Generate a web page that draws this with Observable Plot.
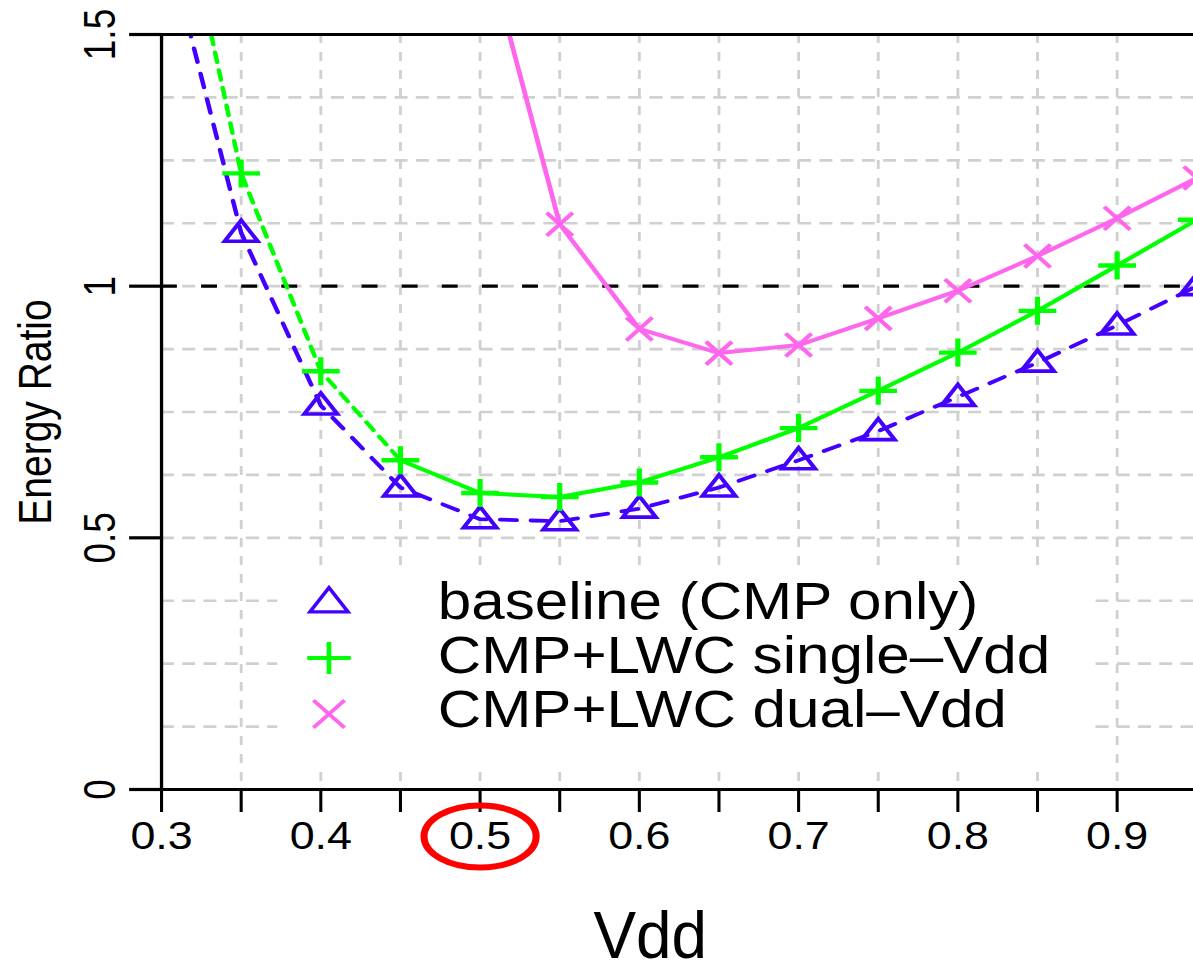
<!DOCTYPE html>
<html><head><meta charset="utf-8">
<script src="https://cdn.jsdelivr.net/npm/d3@7"></script>
<script src="https://cdn.jsdelivr.net/npm/@observablehq/plot@0.6"></script>
<style>html,body{margin:0;padding:0;background:#fff;overflow:hidden}</style>
</head><body><div id="chart"></div>
<script>
// ---- data ----
const vdd        = [0.30, 0.35, 0.40, 0.45, 0.50, 0.55, 0.60, 0.65, 0.70, 0.75, 0.80, 0.85, 0.90, 0.95];
const baseline   = [1.725, 1.106, 0.763, 0.600, 0.537, 0.533, 0.558, 0.600, 0.654, 0.712, 0.780, 0.848, 0.922, 1.000];
const singleVdd  = [1.957, 1.224, 0.831, 0.654, 0.589, 0.581, 0.610, 0.660, 0.718, 0.792, 0.868, 0.951, 1.041, 1.132];
const dualVdd    = [null, null, null, null, 1.718, 1.123, 0.915, 0.867, 0.883, 0.936, 0.991, 1.060, 1.135, 1.215];
const seriesNames  = ["baseline (CMP only)", "CMP+LWC single\u2013Vdd", "CMP+LWC dual\u2013Vdd"];
const seriesColors = ["#4400ff", "#00ff00", "#ff66ee"];
const xMinorTicks = [0.30, 0.35, 0.40, 0.45, 0.50, 0.55, 0.60, 0.65, 0.70, 0.75, 0.80, 0.85, 0.90, 0.95];
const xLabelTicks = [0.3, 0.4, 0.5, 0.6, 0.7, 0.8, 0.9];
const xGridLines  = [0.35, 0.40, 0.45, 0.50, 0.55, 0.60, 0.65, 0.70, 0.75, 0.80, 0.85, 0.90, 0.95];
const yLabelTicks = [0, 0.5, 1, 1.5];
const yGridLines  = [0.125, 0.25, 0.375, 0.5, 0.625, 0.75, 0.875, 1, 1.125, 1.25, 1.375];
const referenceRatio = [1];
const highlightVdd = [0.5];
const singleDashedUpTo = 0.45;
const xTitle = "Vdd";
const yTitle = "Energy Ratio";

// ---- layout ----
const REAL_W = 1193, H = 973, STRETCH = 1.18;
const W = Math.round(REAL_W / STRETCH);
const FONT = "'Liberation Sans', Arial, Helvetica, sans-serif";

// ---- symbols ----
const triangleSym = k => ({draw(c){ const hw=14*k, t=-12.5*k, b=8.5*k; c.moveTo(0,t); c.lineTo(hw,b); c.lineTo(-hw,b); c.closePath(); }});
const plusSym = k => ({draw(c){ const hw=16*k, hh=14*k; c.moveTo(-hw,0); c.lineTo(hw,0); c.moveTo(0,-hh); c.lineTo(0,hh); }});
const timesSym = k => ({draw(c){ const hw=11*k, hh=11.5*k; c.moveTo(-hw,-hh); c.lineTo(hw,hh); c.moveTo(-hw,hh); c.lineTo(hw,-hh); }});
const ellipseSym = {draw(c){ const rx=47.5, ry=31, k=0.5523;
  c.moveTo(rx,0); c.bezierCurveTo(rx,ry*k,rx*k,ry,0,ry); c.bezierCurveTo(-rx*k,ry,-rx,ry*k,-rx,0);
  c.bezierCurveTo(-rx,-ry*k,-rx*k,-ry,0,-ry); c.bezierCurveTo(rx*k,-ry,rx,-ry*k,rx,0); c.closePath(); }};
const chartSyms = [triangleSym(1), plusSym(1), timesSym(1)];
const legendSyms = [triangleSym(1.15), plusSym(1.15), timesSym(1.2)];
const symWidths = [3.6, 4.4, 3.8];

// ---- tables ----
const seriesValues = [baseline, singleVdd, dualVdd];
const rows = seriesValues.map(vals => vdd.map((v, i) => ({vdd: v, ratio: vals[i]})).filter(d => d.ratio != null));

const svg = Plot.plot({
  width: W, height: H,
  marginLeft: 136.4, marginRight: 0, marginTop: 34, marginBottom: 184,
  style: {fontFamily: FONT, background: "white", color: "black"},
  x: {domain: [0.3, 0.948]},
  y: {domain: [0, 1.5]},
  marks: [
    Plot.ruleY(yGridLines, {y: d => d, stroke: "#d0d0d0", strokeWidth: 2.6, strokeDasharray: "11,7"}),
    Plot.ruleX(xGridLines, {x: d => d, stroke: "#d0d0d0", strokeWidth: 2.4, strokeDasharray: "9,9"}),
    Plot.ruleY(referenceRatio, {y: d => d, stroke: "black", strokeWidth: 3.4, strokeDasharray: "13.5,20.5"}),
    // baseline: dashed
    Plot.line(rows[0], {x: "vdd", y: "ratio", stroke: seriesColors[0], strokeWidth: 3.8, strokeDasharray: "14,12", clip: true}),
    // single-Vdd: dashed at low Vdd, solid after
    Plot.line(rows[1].filter(d => d.vdd <= singleDashedUpTo + 1e-9), {x: "vdd", y: "ratio", stroke: seriesColors[1], strokeWidth: 3.8, strokeDasharray: "10,8", clip: true}),
    Plot.line(rows[1].filter(d => d.vdd >= singleDashedUpTo - 1e-9), {x: "vdd", y: "ratio", stroke: seriesColors[1], strokeWidth: 4, clip: true}),
    // dual-Vdd: solid
    Plot.line(rows[2], {x: "vdd", y: "ratio", stroke: seriesColors[2], strokeWidth: 4, clip: true}),
    ...rows.map((r, s) => Plot.dot(r, {x: "vdd", y: "ratio", symbol: chartSyms[s], r: 6, fill: "none", stroke: seriesColors[s], strokeWidth: symWidths[s], clip: true})),
    // frame lines
    Plot.ruleY([0, 1.5], {y: d => d, stroke: "black", strokeWidth: 3.2}),
    Plot.ruleX([0.3], {x: d => d, stroke: "black", strokeWidth: 2.8}),
    // axes
    Plot.axisX({ticks: xMinorTicks, tickSize: 23, tickFormat: () => "", strokeWidth: 2.6, label: null}),
    Plot.axisX({ticks: xLabelTicks, tickSize: 0, tickPadding: 33, fontSize: 38, tickFormat: d => String(d), label: null}),
    Plot.axisY({ticks: yLabelTicks, tickSize: 27, tickFormat: () => "", strokeWidth: 3.2, label: null}),
    Plot.text(yLabelTicks, {y: d => d, text: d => String(d), frameAnchor: "left", dx: -51.7, rotate: -90, fontSize: 37, textAnchor: "middle", lineAnchor: "middle"}),
    Plot.text([yTitle], {text: d => d, frameAnchor: "left", dx: -105.9, rotate: -90, fontSize: 39, textAnchor: "middle", lineAnchor: "middle"}),
    // highlight ring around the 0.5 tick label
    Plot.dot(highlightVdd, {x: d => d, y: () => 0, dy: 47, symbol: ellipseSym, r: 6, fill: "none", stroke: "#ff0000", strokeWidth: 6})
  ]
});

const root = d3.select(svg);
// x title (condensed)
root.append("text").attr("text-anchor", "middle").attr("font-family", FONT).attr("font-size", 66)
  .attr("fill", "black").attr("transform", "translate(551,958) scale(0.82,1)").text(xTitle);

// legend (inside plot area, white box)
const g = root.append("g").attr("font-family", FONT).attr("text-anchor", "start");
g.append("rect").attr("x", 235).attr("y", 565).attr("width", 689).attr("height", 205).attr("fill", "white");
seriesNames.forEach((name, i) => {
  const cy = 602 + 56 * i;
  g.append("path").attr("d", d3.symbol(legendSyms[i], 64)())
    .attr("transform", `translate(278.8,${cy})`)
    .attr("fill", "none").attr("stroke", seriesColors[i]).attr("stroke-width", symWidths[i] * 0.9);
  g.append("text").attr("x", 371).attr("y", 619 + 54 * i).attr("font-size", 51).attr("fill", "black").text(name);
});

// stretch horizontally (the reference is rendered with a horizontal stretch)
svg.setAttribute("viewBox", `0 0 ${W} ${H}`);
svg.setAttribute("width", REAL_W);
svg.setAttribute("height", H);
svg.setAttribute("preserveAspectRatio", "none");
svg.style.width = REAL_W + "px";
svg.style.height = H + "px";
svg.style.maxWidth = "none";
svg.style.overflow = "hidden";
document.getElementById("chart").appendChild(svg);
</script>
</body></html>
